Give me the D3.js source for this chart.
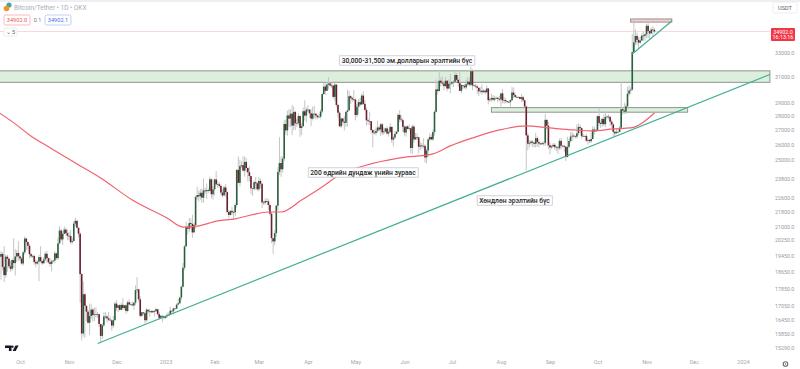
<!DOCTYPE html>
<html>
<head>
<meta charset="utf-8">
<script src="https://cdn.jsdelivr.net/npm/d3@7"></script>
<style>
body { margin: 0; background: #fff; }
svg { display: block; font-family: Roboto, sans-serif; }
</style>
</head>
<body>
<svg id="chart" width="800" height="369"></svg>
<script>
// daily candles start here, one value per day
let startDate = "2022-09-18";

let closes = [
  19400,19540,18890,18490,19400,19300,18920,18800,19230,19080,19410,19590,19420,
  19310,19060,19620,20340,20160,19960,19530,19420,19440,19130,19060,19155,19380,19180,19070,19260,19550,19330,19120,19040,19165,19205,19570,19330,20090,20770,20295,20595,20820,20630,20490,
  20480,20150,20205,21150,21300,20925,20600,18540,15880,17590,17070,16810,16330,16620,16900,16660,16690,16700,16700,16280,15780,16220,16600,16600,16520,16460,16430,16210,16440,17165,
  16980,17090,16890,17110,16970,17090,16840,17225,17130,17130,17085,17205,17780,17815,17360,16630,16780,16740,16440,16895,16825,16830,16780,16840,16830,16915,16700,16540,16630,16600,16540,
  16610,16670,16670,16850,16830,16950,16940,17120,17180,17440,17940,18850,19930,20950,20870,21180,21130,20670,21070,22670,22780,22710,22920,22630,23060,23010,23075,23030,23740,22830,23120,
  23730,23430,23430,23330,22930,22760,23240,22960,21800,21630,21860,21780,21780,22200,24330,23520,24570,24630,24280,24840,24450,24180,23940,23190,23160,23560,23490,23130,
  23640,23470,22350,22340,22430,22410,22200,21700,20360,20190,20630,22160,24200,24770,24370,25050,27420,26970,28040,27810,28170,27310,28300,27480,27490,28000,27140,27270,28350,28030,28470,
  28470,28200,27810,28170,28170,28030,27920,27950,28330,29650,30230,29900,30390,30480,30320,30310,29430,30390,28820,28240,27260,27820,27590,27510,28300,28420,29480,29340,29240,29230,
  28070,28680,29030,28850,29530,28900,28450,27690,27630,27620,26990,26810,26790,26930,27170,27030,27400,26830,26890,27110,26750,26850,27220,26330,26470,26720,26870,28080,27750,27700,27220,
  26820,27250,27070,27120,25760,27240,26340,26500,26480,25850,25930,25900,25900,25130,25590,26340,26510,26340,26850,28310,30010,29890,30700,30550,30470,30270,30700,30080,30450,30470,
  30590,30620,31160,30770,30510,29900,30350,30290,30170,30420,30620,30380,31470,30320,30300,30240,30140,29860,29910,29800,29910,29790,30080,29180,29230,29350,29220,29320,29360,29280,29230,
  29700,29170,29180,29100,29040,29050,29180,29770,29570,29430,29400,29420,29280,29410,29170,28700,26620,26050,26090,26190,26120,26040,26430,26160,26060,26010,26090,26100,27720,27300,25940,
  25800,25870,25970,25830,25790,25750,26240,25910,25900,25840,25160,25840,26230,26540,26600,26570,26530,26760,27210,27130,26570,26580,26580,26250,26300,26220,26370,27030,26910,26970,
  27990,27500,27430,27790,27410,27930,27960,27930,27590,27390,26870,26760,26860,26860,27160,28500,28400,28320,28720,29680,29920,29990,33070,33920,34500,34150,33900,34090,34530,34500,34650,
  35420,34940,34730,35080,35050,34902
];

let highs = [
  20100,19680,19650,19950,19500,19500,19350,19180,19300,20350,19790,19750,20200,
  19480,19390,19700,20450,20360,20050,20040,19600,19500,19500,19260,19220,19500,19930,19200,19380,19650,19700,19350,19340,19250,19250,19690,19600,20400,21000,20870,20750,20990,20930,20830,
  20700,20800,20380,21300,21480,21370,20870,20680,18600,18180,17650,17070,16900,17170,17130,16970,16990,17010,16800,16700,16280,16300,16770,16800,16650,16800,16600,16480,16620,17250,
  17320,17100,17150,17200,17420,17110,17130,17300,17360,17220,17270,17240,18000,18390,17840,17500,16800,16800,16800,16970,16900,16930,16880,16870,16880,16980,16920,16800,16650,16650,16630,
  16630,16770,16770,17030,16880,16990,16960,17170,17380,17480,18000,19100,20000,21260,21050,21470,21440,21650,21200,22740,23280,23060,23150,23160,23800,23230,23480,23190,23900,23790,23300,
  23800,24250,23650,23560,23420,23140,23340,23450,23000,21900,21910,22080,21890,22300,24370,25200,24990,24880,25200,25200,25100,24480,24560,23880,23190,23660,23880,23580,
  23880,23780,23470,22460,22600,22600,22550,22260,21800,20370,20800,22200,24500,26500,25200,25200,27700,27750,28400,28500,28480,28800,28700,28380,27780,28200,28040,27500,28620,29170,28650,
  28800,28480,28500,28700,28750,28200,28100,28170,28500,29750,30550,30470,30600,31000,30550,30540,30320,30490,30400,28900,28350,27890,27820,28000,28380,30000,29900,29570,29450,29950,
  29300,28900,29250,29350,29680,29850,29180,28630,27820,28320,27630,27050,27030,27180,27650,27290,27480,27480,27180,27150,27270,27050,27480,27220,26620,26930,26950,28200,28440,28050,27840,
  27340,27300,27330,27400,27130,27360,27380,26780,26780,26520,26180,26090,26420,26020,25730,26450,26770,26690,27040,28400,30800,30500,31400,31000,31030,30650,31000,30700,30800,31250,
  30650,30760,31380,31330,30880,31500,30430,30380,30430,30800,31000,30980,31840,31640,30390,30440,30330,30000,30190,30400,30030,29980,30320,30100,29380,29680,29570,29530,29450,29450,29530,
  29750,30050,29430,29320,29100,29160,29250,30200,30150,29700,29530,29480,29450,29650,29500,29250,28760,26800,26280,26300,26280,26140,26800,26550,26320,26120,26180,26200,28150,27750,27580,
  26130,25970,26100,26080,25900,25900,26400,26450,25950,25980,25900,26520,26390,26830,26880,26760,26620,27400,27470,27380,27170,26730,26620,26730,26420,26380,26820,27240,27240,27090,
  28050,28600,27670,27840,28110,28290,28030,28120,28000,27740,27480,26940,27110,26990,27280,30600,28620,28990,28880,30200,30330,30180,34700,35950,35100,34800,34400,34450,34750,34880,34720,
  35600,35950,35000,35250,35380,35250
];

let lows = [
  19300,18270,18730,18150,18350,18650,18820,18650,18700,18830,18470,19150,19200,
  19170,19000,18960,19500,19730,19750,19330,19340,19320,19000,18870,19000,18200,19100,18990,19060,19170,19100,19050,18900,18670,19130,19080,19250,19230,20050,20200,20000,20570,20500,20250,
  20250,20050,20050,20180,21000,20880,20400,17200,15600,15750,15700,16400,16300,15820,16500,16380,16400,16550,16550,16150,15480,15650,16150,16500,16340,16400,16400,16000,16100,16420,
  16850,16790,16860,16880,16880,16900,16720,16780,17100,17100,17070,16880,17090,17650,17250,16560,16590,16670,16300,16370,16730,16590,16770,16770,16600,16810,16650,16460,16480,16350,16470,
  16500,16550,16630,16650,16750,16670,16910,16920,17120,17150,17320,17900,18730,19900,20550,20680,20860,20380,20650,20880,22500,22400,22500,22320,22350,22850,22550,22890,23000,22600,22520,
  22750,23360,23200,23220,22760,22630,22750,22680,21700,21450,21600,21620,21380,21550,22050,23500,23300,24430,24220,23900,24150,23600,23600,22840,22730,23070,23100,23040,
  23000,23200,22030,22200,22200,22330,21920,21580,20100,19550,19980,20430,21900,24000,23900,24150,24900,26650,26600,27200,27200,26650,27000,27000,27200,27350,26520,26650,27200,27670,27540,
  28300,27870,27280,27680,27820,27750,27780,27880,27800,28180,29600,29600,29900,30000,30230,30120,29270,29100,28650,27880,27200,27150,27330,26970,27200,27250,28380,28880,29050,29100,
  27680,27900,28130,28700,28830,28820,28370,27300,27370,27350,26740,25800,26690,26620,26800,26850,26560,26650,26650,26860,26680,26530,26810,26100,25860,26340,26700,26870,27550,27550,26860,
  26600,26530,27040,26950,25400,25350,26120,26300,26300,25400,25600,25720,25730,24800,24750,25180,26200,26300,26250,26600,28250,29600,29820,30250,30300,29950,30220,29870,30050,29700,
  30320,30200,30570,30650,30200,29850,29700,30050,30060,29980,30300,30250,30270,29950,30250,30090,29660,29500,29700,29600,29730,29620,29730,28850,29050,29080,29100,29070,29250,29000,29100,
  28580,28950,28900,28950,28950,28950,28700,29130,29350,29320,29350,29370,29250,29050,29050,28720,24300,25600,25800,25970,25820,25800,25800,25860,25800,25970,25980,25920,25900,27050,25700,
  25330,25700,25800,25650,25550,25370,25620,25660,25800,25500,24900,25130,25750,26120,26200,26430,26400,26400,26620,26800,26380,26510,26540,26180,25990,26100,26100,26330,26670,26860,
  26950,27300,27150,27220,27280,27210,27800,27760,27290,27150,26550,26550,26800,26820,26980,27150,28100,28150,28150,28650,29480,29670,29900,33400,33700,33700,33400,33850,34050,34050,34080,
  34300,34300,34150,34680,34500,34750
];

// 200 day average
let maDates = ["2022-09-18","2022-09-28","2022-10-07","2022-10-20","2022-11-05","2022-11-21","2022-12-11","2023-01-02","2023-01-12","2023-01-21","2023-02-03","2023-02-14","2023-02-24","2023-03-07","2023-03-15","2023-03-28","2023-04-09","2023-04-23","2023-05-06","2023-05-29","2023-06-19","2023-06-30","2023-07-14","2023-07-31","2023-08-17","2023-09-01","2023-09-16","2023-09-28","2023-10-11","2023-10-22","2023-11-06"];
let maValues = [28220,27430,26650,25770,24770,23820,22490,21460,20960,21010,21300,21410,21630,21800,21800,22490,23210,24135,24580,25100,25370,25900,26440,27000,27290,27140,27000,26930,27070,27140,28220];

let yTicks = [33000,31000,29000,28000,27000,26000,25000,23800,22600,21800,21000,20250,19450,18650,17850,17050,16450,15850,15290];
let xTickDates = ["2022-10-01","2022-11-01","2022-12-01","2023-01-01","2023-02-01","2023-03-01","2023-04-01","2023-05-01","2023-06-01","2023-07-01","2023-08-01","2023-09-01","2023-10-01","2023-11-01","2023-12-01","2024-01-01"];
let xTickLabels = ["Oct","Nov","Dec","2023","Feb","Mar","Apr","May","Jun","Jul","Aug","Sep","Oct","Nov","Dec","2024"];

// drawn zones and lines: [date from, date to, price top, price bottom]
let demandZone = ["2022-09-18","2024-01-18",31500,30570];
let crossZone = ["2023-07-26","2023-11-27",28620,28280];
let topBox = ["2023-10-22","2023-11-17",36060,35770];
let supportLine = [["2022-11-19",15470],["2024-01-18",31200]];
let shortLine = [["2023-10-23",32910],["2023-11-17",35870]];

let lastPrice = 34902;

let parseDay = d3.utcParse("%Y-%m-%d");
let svg = d3.select("#chart");

let xScale = d3.scaleUtc()
    .domain([parseDay("2022-10-01"), parseDay("2024-01-01")])
    .range([20, 743]);

let yScale = d3.scaleLog()
    .domain([15290, 33000])
    .range([348, 53]);

// top strip
svg.append("rect").attr("width", 800).attr("height", 2).attr("fill", "#eeeff2");

function drawZone(z, fill, stroke)
{
    svg.append("rect")
        .attr("x", xScale(parseDay(z[0])))
        .attr("y", yScale(z[2]))
        .attr("width", xScale(parseDay(z[1])) - xScale(parseDay(z[0])))
        .attr("height", yScale(z[3]) - yScale(z[2]))
        .attr("fill", fill)
        .attr("stroke", stroke)
        .attr("stroke-width", 1);
}
drawZone(demandZone, "#dcefdc", "#8f9490");
drawZone(crossZone, "#dcefdc", "#8f9490");
drawZone(topBox, "#f6d3d3", "#a08a8a");

// last price line
svg.append("line")
    .attr("x1", 0).attr("x2", xScale(parseDay(demandZone[1])))
    .attr("y1", yScale(lastPrice)).attr("y2", yScale(lastPrice))
    .attr("stroke", "#f7c6ca").attr("stroke-width", 0.7);

// candles
let candles = closes.map(function(c, i){
    let date = d3.utcDay.offset(parseDay(startDate), i);
    let open = i > 0 ? closes[i-1] : lows[0] + 200;
    return {
        date: date,
        open: open,
        close: c,
        high: Math.max(highs[i], open, c),
        low: Math.min(lows[i], open, c)
    };
});

svg.append("g").selectAll("line")
    .data(candles)
    .enter()
    .append("line")
    .attr("x1", (d) => xScale(d.date))
    .attr("x2", (d) => xScale(d.date))
    .attr("y1", (d) => yScale(d.high))
    .attr("y2", (d) => yScale(d.low))
    .attr("stroke", "#c4c5c9")
    .attr("stroke-width", 1);

svg.append("g").selectAll("rect")
    .data(candles)
    .enter()
    .append("rect")
    .attr("x", (d) => xScale(d.date) - 0.8)
    .attr("y", (d) => yScale(Math.max(d.open, d.close)))
    .attr("width", 1.6)
    .attr("height", (d) => Math.max(0.7, Math.abs(yScale(d.open) - yScale(d.close))))
    .attr("fill", (d) => d.close >= d.open ? "#2c5f3c" : "#6b1f2c");

// 200 day line
let maLine = d3.line()
    .x((d) => xScale(parseDay(d[0])))
    .y((d) => yScale(d[1]))
    .curve(d3.curveMonotoneX);

svg.append("path")
    .datum(maDates.map((d, i) => [d, maValues[i]]))
    .attr("d", maLine)
    .attr("fill", "none")
    .attr("stroke", "#f2616d")
    .attr("stroke-width", 1.2);

// trend lines
let trendLine = d3.line()
    .x((d) => xScale(parseDay(d[0])))
    .y((d) => yScale(d[1]));

[supportLine, shortLine].forEach(function(l){
    svg.append("path")
        .attr("d", trendLine(l))
        .attr("fill", "none")
        .attr("stroke", "#3fae96")
        .attr("stroke-width", 1.2);
});

// axes
let yAxis = d3.axisRight(yScale)
    .tickValues(yTicks)
    .tickSize(0)
    .tickPadding(0)
    .tickFormat(d3.format(".1f"));

let yG = svg.append("g").attr("transform", "translate(775,0)").call(yAxis);
yG.select(".domain").remove();
yG.selectAll("text")
    .attr("font-family", "Roboto, sans-serif")
    .attr("font-size", 5.3)
    .attr("fill", "#9499a6");

let xAxis = d3.axisBottom(xScale)
    .tickValues(xTickDates.map(parseDay))
    .tickSize(0)
    .tickPadding(0)
    .tickFormat((d, i) => xTickLabels[i]);

let xG = svg.append("g").attr("transform", "translate(0,360)").call(xAxis);
xG.select(".domain").remove();
xG.selectAll("text")
    .attr("font-family", "Roboto, sans-serif")
    .attr("font-size", 5.5)
    .attr("fill", "#a4a8b3");

// text notes with a box behind
function addNote(txt, cx, cy, size)
{
    let g = svg.append("g");
    let t = g.append("text")
        .attr("x", cx).attr("y", cy + size * 0.36)
        .attr("text-anchor", "middle")
        .attr("font-size", size)
        .attr("font-weight", 500)
        .attr("fill", "#222")
        .text(txt);
    let b = t.node().getBBox();
    g.insert("rect", "text")
        .attr("x", b.x - 2).attr("y", cy - 4.7)
        .attr("width", b.width + 4).attr("height", 9.4)
        .attr("fill", "#fff")
        .attr("stroke", "#c3c7cf")
        .attr("stroke-width", 0.8);
}
addNote("30,000-31,500 эм.долларын эрэлтийн бүс", 407, 60.5, 6.7);
addNote("200 өдрийн дундаж үнийн зураас", 363, 172.5, 6.7);
addNote("Хөндлөн эрэлтийн бүс", 514.5, 200.5, 6.7);

// legend, top left
svg.append("circle").attr("cx", 9).attr("cy", 5).attr("r", 2.6).attr("fill", "#4aa39a");
svg.append("circle").attr("cx", 6.5).attr("cy", 8.5).attr("r", 2.8).attr("fill", "#f0932b");
svg.append("text").attr("x", 14).attr("y", 10.3)
    .attr("font-size", 6.5).attr("fill", "#a9acb6")
    .text("Bitcoin/Tether • 1D • OKX");

function addBox(x, y, w, h, stroke, txt, color)
{
    svg.append("rect").attr("x", x).attr("y", y).attr("width", w).attr("height", h).attr("rx", 1.5)
        .attr("fill", "#fff").attr("stroke", stroke).attr("stroke-width", 0.8);
    svg.append("text").attr("x", x + w / 2).attr("y", y + h / 2 + 2)
        .attr("text-anchor", "middle").attr("font-size", 5.6).attr("fill", color)
        .text(txt);
}
addBox(4, 15, 26, 10, "#f7a9ae", "34902.0", "#ef5350");
svg.append("text").attr("x", 37.5).attr("y", 22).attr("text-anchor", "middle")
    .attr("font-size", 5.4).attr("fill", "#777").text("0.1");
addBox(45, 15, 26, 10, "#b4c4f5", "34902.1", "#4a6de0");
addBox(4, 28, 13, 8, "#e6e7ea", "⌄ 5", "#666");

// right side: currency box and last price tag
addBox(773, 2, 24, 11, "#e8e9ec", "USDT", "#5d6170");

svg.append("rect").attr("x", 771).attr("y", 28).attr("width", 24).attr("height", 13)
    .attr("rx", 1).attr("fill", "#f23645");
svg.append("text").attr("x", 783).attr("y", 33.8).attr("text-anchor", "middle")
    .attr("font-size", 5.4).attr("fill", "#fff").text("34902.0");
svg.append("text").attr("x", 783).attr("y", 39.4).attr("text-anchor", "middle")
    .attr("font-size", 5.4).attr("fill", "#fff").text("16:13:16");

// tradingview mark and settings gear
svg.append("path")
    .attr("d", "M5 345.5h6.5v5.5h-2.6v-3h-3.9zM12.6 345.5a1.1 1.1 0 1 0 .01 0zM15.5 345.5h3.1l-2.9 5.5h-3.1z")
    .attr("fill", "#131722");
svg.append("circle").attr("cx", 785.5).attr("cy", 364).attr("r", 2.3)
    .attr("fill", "none").attr("stroke", "#6a6d78").attr("stroke-width", 1.1);
svg.append("circle").attr("cx", 785.5).attr("cy", 364).attr("r", 0.7).attr("fill", "#6a6d78");
</script>
</body>
</html>
